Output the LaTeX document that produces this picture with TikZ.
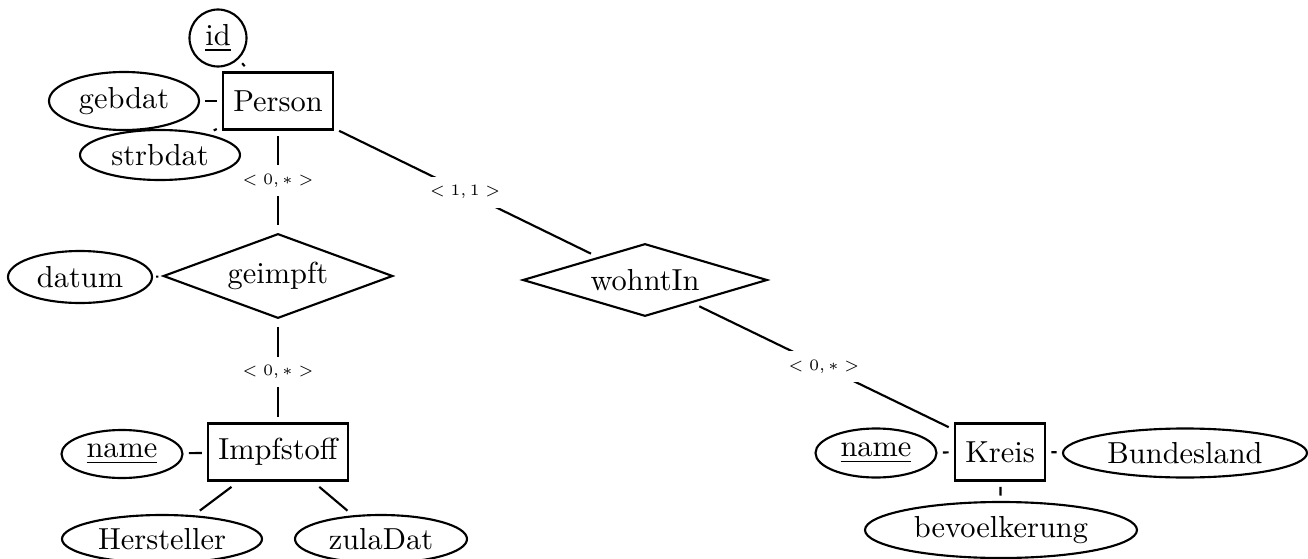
\documentclass[tikz,border=0pt]{standalone}
\usetikzlibrary{shapes.geometric}
% one drawing unit in points
\newcommand\pxl{0.3289pt}
\begin{document}
\begin{tikzpicture}[x=0.3289pt, y=-0.3289pt, line width=0.7pt,
  every node/.style={outer sep=2.1pt},
  entity/.style={draw, rectangle, minimum height=57*\pxl},
  attr/.style 2 args={draw, ellipse, inner sep=0pt,
    minimum width=#1*\pxl, minimum height=#2*\pxl},
  keyattr/.style={draw, circle, inner sep=0pt, minimum size=57*\pxl},
  relship/.style 2 args={draw, diamond, aspect=3.5, inner sep=0pt,
    minimum width=#1*\pxl, minimum height=#2*\pxl},
  card/.style={fill=white, outer sep=0pt, inner xsep=1.5pt, inner ysep=3.3pt,
    scale=0.87, font=\fontsize{6}{7}\selectfont}]
\useasboundingbox (0,0) rectangle (1308,559);

% entities
\node[entity] (person) at (278,101)  {Person};
\node[entity] (impf)   at (278,452)  {Impfstoff};
\node[entity] (kreis)  at (1000,452) {Kreis};

% relationships
\node[relship={234}{89}]  (geimpft) at (278,276) {geimpft};
\node[relship={249}{77}]  (wohnt)   at (645,280) {wohntIn};

% attributes
\node[keyattr] (pid) at (218,38) {\underline{id}};
\node[attr={150}{58}] (gebdat)  at (124,101)  {gebdat};
\node[attr={160}{50}] (strbdat) at (160,155)  {strbdat};
\node[attr={144}{52}] (datum)   at (80,277)   {datum};
\node[attr={121}{48}] (iname)   at (122,454)  {\underline{name}};
\node[attr={200}{48}] (herst)   at (162,539)  {Hersteller};
\node[attr={172}{48}] (zula)    at (381,539)  {zulaDat};
\node[attr={121}{49}] (kname)   at (876,453)  {\underline{name}};
\node[attr={244}{49}] (bland)   at (1185,453) {Bundesland};
\node[attr={272}{56}] (bevoe)   at (1001,530) {bevoelkerung};

% attribute links
\draw (pid) -- (person);
\draw (gebdat) -- (person);
\draw (strbdat) -- (person);
\draw (datum) -- (geimpft);
\draw (iname) -- (impf);
\draw (impf) -- (herst);
\draw (impf) -- (zula);
\draw (kname) -- (kreis);
\draw (kreis) -- (bland);
\draw (kreis) -- (bevoe);

% relationship links with cardinalities
\draw (person) -- node[card] {$<0,*>$} (geimpft);
\draw (geimpft) -- node[card] {$<0,*>$} (impf);
\draw (person) -- node[card] {$<1,1>$} (wohnt);
\draw (wohnt) -- node[card] {$<0,*>$} (kreis);
\end{tikzpicture}
\end{document}
